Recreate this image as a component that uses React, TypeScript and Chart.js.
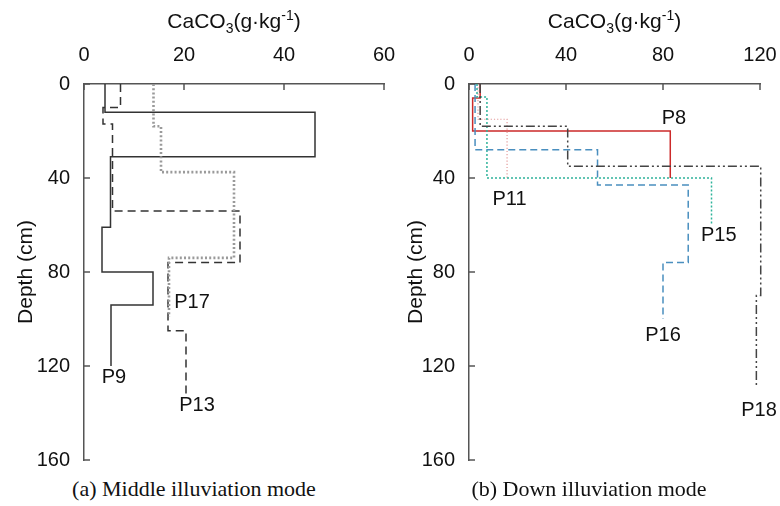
import React, { useEffect, useRef } from "react";
import { Chart, registerables } from "chart.js";
Chart.register(...registerables);

// ---------- Data: panel (a) Middle illuviation mode ----------
const depthsP9 = [0, 12, 31, 61, 80, 94, 120];
const valuesP9 = [4.2, 46.2, 5.3, 3.6, 13.8, 5.4];
const depthsP13 = [0, 10, 17, 54, 76, 105, 133];
const valuesP13 = [7.3, 3.8, 5.7, 31.2, 16.8, 20.4];
const depthsP17 = [0, 18, 37.5, 74, 99];
const valuesP17 = [13.9, 15.4, 30, 17];

// ---------- Data: panel (b) Down illuviation mode ----------
const depthsP8 = [0, 6, 20, 40];
const valuesP8 = [4.6, 1.5, 83];
const depthsP11 = [0, 15, 40];
const valuesP11 = [3.7, 15.7];
const depthsP15 = [0, 5.5, 40, 60];
const valuesP15 = [3.3, 7.4, 100];
const depthsP16 = [0, 28, 43, 76, 100];
const valuesP16 = [2.5, 53, 90.4, 80];
const depthsP18 = [0, 18, 35, 90, 129];
const valuesP18 = [4.6, 40.7, 120.3, 118.5];

// ---------- Ticks & labels ----------
const xTicksA = [0, 20, 40, 60];
const xTicksB = [0, 40, 80, 120];
const depthTicks = [0, 40, 80, 120, 160];
const labelsA = ["P9", "P13", "P17"];
const labelValueA = [6, 22.6, 21.6];
const labelDepthA = [125, 137, 93];
const labelsB = ["P8", "P11", "P15", "P16", "P18"];
const labelValueB = [84.5, 16.7, 103, 80, 119.6];
const labelDepthB = [14.5, 49, 64.5, 107, 139];

const SANS = '"Liberation Sans", Arial, sans-serif';

function steps(depths: number[], values: number[]) {
  const pts: { x: number; y: number }[] = [];
  values.forEach((v, i) => {
    pts.push({ x: v, y: depths[i] });
    pts.push({ x: v, y: depths[i + 1] });
  });
  return pts;
}

function makeDecor(labels: string[], lx: number[], ly: number[]) {
  return {
    id: "decor",
    afterDraw(chart: any) {
      const ctx = chart.ctx as CanvasRenderingContext2D;
      const xs = chart.scales.x;
      const ys = chart.scales.y;
      const area = chart.chartArea;
      ctx.save();
      // inward tick marks
      ctx.strokeStyle = "#555";
      ctx.lineWidth = 1.5;
      ctx.beginPath();
      xs.ticks.forEach((t: any) => {
        const px = xs.getPixelForValue(t.value);
        ctx.moveTo(px, area.top);
        ctx.lineTo(px, area.top + 6);
      });
      ys.ticks.forEach((t: any) => {
        const py = ys.getPixelForValue(t.value);
        ctx.moveTo(area.left, py);
        ctx.lineTo(area.left + 6, py);
      });
      ctx.stroke();
      // profile labels
      ctx.fillStyle = "#111";
      ctx.font = `20px ${SANS}`;
      ctx.textAlign = "center";
      ctx.textBaseline = "middle";
      labels.forEach((l, i) => {
        ctx.fillText(l, xs.getPixelForValue(lx[i]), ys.getPixelForValue(ly[i]));
      });
      // x axis title with sub/superscript
      const parts: [string, string][] = [
        ["CaCO", "n"],
        ["3", "sub"],
        ["(g·kg", "n"],
        ["-1", "sup"],
        [")", "n"],
      ];
      const big = `21px ${SANS}`;
      const small = `14px ${SANS}`;
      let total = 0;
      parts.forEach(([t, k]) => {
        ctx.font = k === "n" ? big : small;
        total += ctx.measureText(t).width;
      });
      let cx = (area.left + area.right) / 2 - total / 2;
      const base = 28;
      ctx.textAlign = "left";
      ctx.textBaseline = "alphabetic";
      parts.forEach(([t, k]) => {
        ctx.font = k === "n" ? big : small;
        const dy = k === "sub" ? 5 : k === "sup" ? -8 : 0;
        ctx.fillText(t, cx, base + dy);
        cx += ctx.measureText(t).width;
      });
      ctx.restore();
    },
  };
}

function makeConfig(
  datasets: any[],
  xMax: number,
  xTicks: number[],
  yWidth: number,
  padRight: number,
  labels: string[],
  lx: number[],
  ly: number[]
): any {
  return {
    type: "scatter",
    data: { datasets },
    options: {
      animation: false,
      responsive: false,
      layout: { padding: { left: 0, right: padRight, top: 0, bottom: 10 } },
      plugins: { legend: { display: false }, tooltip: { enabled: false } },
      elements: { point: { radius: 0 } },
      scales: {
        x: {
          type: "linear",
          position: "top",
          min: 0,
          max: xMax,
          afterBuildTicks: (s: any) => {
            s.ticks = xTicks.map((v) => ({ value: v }));
          },
          afterFit: (s: any) => {
            s.height = 84;
            s.paddingLeft = 0;
            s.paddingRight = 0;
          },
          grid: { drawOnChartArea: false, drawTicks: false },
          border: { display: true, color: "#555", width: 1.5 },
          ticks: { color: "#111", font: { family: SANS, size: 20 }, padding: 17 },
        },
        y: {
          type: "linear",
          reverse: true,
          min: 0,
          max: 160,
          afterBuildTicks: (s: any) => {
            s.ticks = depthTicks.map((v) => ({ value: v }));
          },
          afterFit: (s: any) => {
            s.width = yWidth;
            s.paddingTop = 0;
            s.paddingBottom = 0;
          },
          grid: { drawOnChartArea: false, drawTicks: false },
          border: { display: true, color: "#555", width: 1.5 },
          ticks: { color: "#111", font: { family: SANS, size: 20 }, padding: 14 },
          title: {
            display: true,
            text: "Depth (cm)",
            color: "#111",
            font: { family: SANS, size: 21 },
            padding: { top: 14, bottom: 0 },
          },
        },
      },
    },
    plugins: [makeDecor(labels, lx, ly)],
  };
}

function ds(label: string, depths: number[], values: number[], color: string, width: number, dash: number[]) {
  return {
    label,
    data: steps(depths, values),
    showLine: true,
    borderColor: color,
    borderWidth: width,
    borderDash: dash,
    pointRadius: 0,
    fill: false,
    clip: false,
  };
}

function Panel(props: { config: () => any; left: number; width: number }) {
  const ref = useRef<HTMLCanvasElement | null>(null);
  useEffect(() => {
    if (!ref.current) return;
    const chart = new Chart(ref.current, props.config());
    return () => chart.destroy();
  }, []);
  return (
    <canvas
      ref={ref}
      width={props.width}
      height={470}
      style={{ position: "absolute", left: props.left, top: 0, width: props.width, height: 470 }}
    />
  );
}

export default function App() {
  const configA = () =>
    makeConfig(
      [
        ds("P17", depthsP17, valuesP17, "#9a9a9a", 2.6, [2, 2.2]),
        ds("P13", depthsP13, valuesP13, "#333333", 1.5, [8, 5]),
        ds("P9", depthsP9, valuesP9, "#333333", 1.5, []),
      ],
      60,
      xTicksA,
      84,
      16,
      labelsA,
      labelValueA,
      labelDepthA
    );
  const configB = () =>
    makeConfig(
      [
        ds("P18", depthsP18, valuesP18, "#444444", 1.5, [9, 3, 2, 3, 2, 3]),
        ds("P16", depthsP16, valuesP16, "#4a8fbf", 1.5, [7, 4]),
        ds("P15", depthsP15, valuesP15, "#2fb39b", 1.5, [2, 2]),
        ds("P11", depthsP11, valuesP11, "#e39a9a", 1.2, [1.2, 2]),
        ds("P8", depthsP8, valuesP8, "#cc2a2a", 1.5, []),
      ],
      120,
      xTicksB,
      79,
      20,
      labelsB,
      labelValueB,
      labelDepthB
    );
  const cap: React.CSSProperties = {
    position: "absolute",
    top: 476,
    fontFamily: '"Liberation Serif", "Times New Roman", serif',
    fontSize: 22,
    color: "#111",
    whiteSpace: "nowrap",
    transform: "translateX(-50%)",
  };
  return (
    <div style={{ position: "absolute", left: 0, top: 0, width: 780, height: 506, background: "#fff" }}>
      <Panel config={configA} left={0} width={400} />
      <Panel config={configB} left={390} width={390} />
      <div style={{ ...cap, left: 194 }}>(a) Middle illuviation mode</div>
      <div style={{ ...cap, left: 589 }}>(b) Down illuviation mode</div>
    </div>
  );
}
